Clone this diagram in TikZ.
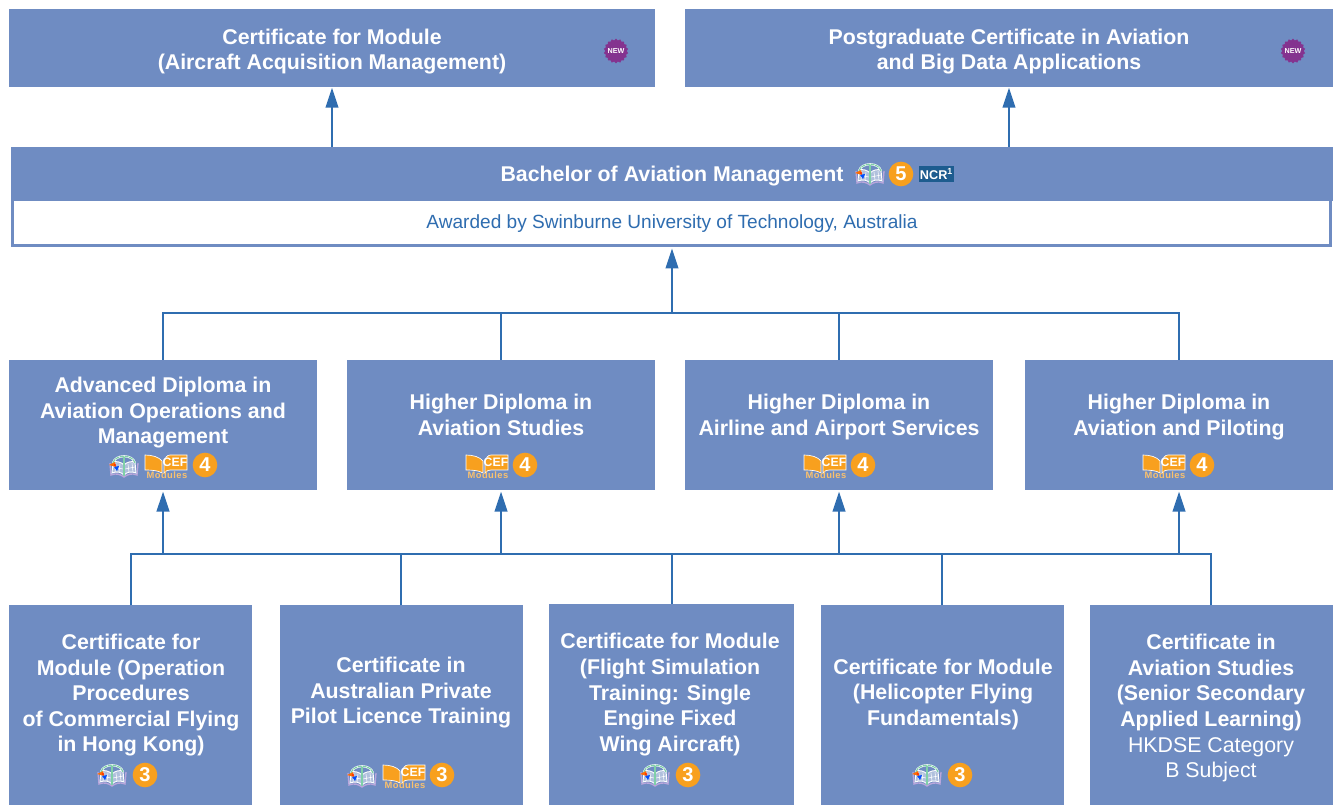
\documentclass[tikz,border=0pt]{standalone}
\usepackage{fontspec}
\setmainfont{Liberation Sans}
\usetikzlibrary{arrows.meta,shapes.geometric}
\definecolor{boxblue}{HTML}{6F8CC2}
\definecolor{linkblue}{HTML}{2F6DB0}
\definecolor{badgeorange}{HTML}{F8A01E}
\definecolor{newpurple}{HTML}{84338F}
\definecolor{ncrblue}{HTML}{1D5C8F}
\definecolor{archgreen}{HTML}{7FD0A8}
\definecolor{pagepurple}{HTML}{B9A6DC}
\tikzset{
  x=0.75pt,y=-0.75pt,
  box/.style={fill=boxblue,draw=none,inner sep=0pt,outer sep=0pt,anchor=north west},
  title/.style={text=white,font=\fontsize{16}{19.2}\selectfont\bfseries,align=center,inner sep=0pt,yshift=-1.9pt},
  link/.style={draw=linkblue,line width=1.5pt},
  up/.style={link,-{Triangle[length=15pt,width=9.5pt]},shorten >=0.5pt},
  numbadge/.style={circle,fill=badgeorange,text=white,minimum size=18.5pt,inner sep=0pt,font=\fontsize{15}{15}\selectfont\bfseries},
  pics/globebook/.style={code={
    % open book
    \draw[pagepurple,line width=1pt] (-14,-3) -- (-13,9) .. controls (-8,7) and (-4,8) .. (0,11) .. controls (4,8) and (8,7) .. (13,9) -- (14,-3);
    \draw[white,line width=.7pt,fill=boxblue!55!white] (-11,-4) .. controls (-7,-5) and (-3,-4) .. (0,-1) .. controls (3,-4) and (7,-5) .. (11,-4) -- (12,7) .. controls (7,5) and (3,6) .. (0,9) .. controls (-3,6) and (-7,5) .. (-12,7) -- cycle;
    \draw[white,line width=.4pt] (-8,-3)--(-9,6) (-4,-2)--(-5,6) (4,-2)--(5,6) (8,-3)--(9,6) (-11,1)--(-1,3) (11,1)--(1,3);
    % arch
    \draw[white,line width=1.6pt] (-11,-3) .. controls (-9,-12) and (9,-12) .. (11,-3);
    \draw[archgreen,line width=.9pt,dash pattern=on 3pt off .6pt] (-11,-3) .. controls (-9,-12) and (9,-12) .. (11,-3);
    \draw[archgreen,line width=1pt] (0,-9)--(0,10);
    % figure
    \fill[orange!85!red] (-15,-1) -- (-9,-4) -- (-8,1) -- cycle;
    \fill[blue!70!cyan] (-10,1) -- (-5,0) -- (-7,5) -- cycle;
    \fill[red!70!orange] (-9,-1) circle (1.2);
  }},
  pics/cef/.style={code={
    \draw[white,line width=.5pt,fill=badgeorange] (-21,-11) .. controls (-14,-11) and (-7,-9) .. (-4,-5) -- (-4,7) .. controls (-7,5) and (-12,4) .. (-21,4) -- cycle;
    \draw[white,line width=.5pt,fill=badgeorange] (-2,-5) .. controls (-1,-8) and (1,-11) .. (4,-11) -- (21,-11) -- (21,4) -- (4,4) .. controls (1,4) and (0,5) .. (-2,7) -- cycle;
    \node[text=white,inner sep=0pt,font=\fontsize{9.2}{9.2}\selectfont\bfseries] (-c) at (9,-3.5) {CEF};
    \node[text=badgeorange!65!white,inner sep=0pt,font=\fontsize{7}{7}\selectfont\bfseries] (-m) at (1,9.5) {\addfontfeature{LetterSpace=5}Modules};
  }},
  pics/newseal/.style={code={
    \node[star,star points=18,star point ratio=1.15,fill=newpurple,minimum size=18.5pt,inner sep=0pt] (-s) at (0,0) {};
    \node[text=white,inner sep=0pt,font=\fontsize{5.4}{5.4}\selectfont\bfseries] (-t) at (0,0) {NEW};
  }}
}
\begin{document}
\begin{tikzpicture}
\useasboundingbox (0,0) rectangle (1336,805);
% boxes
\node[box,minimum width=484.5pt,minimum height=58.5pt] (top1) at (9,9) {};
\node[box,minimum width=486pt,minimum height=58.5pt] (top2) at (685,9) {};
\node[draw=boxblue,line width=2.25pt,fill=white,minimum width=988.5pt,minimum height=34.5pt,inner sep=0pt,outer sep=0pt,anchor=north west] (bachbody) at (12.5,199.5) {};
\node[box,minimum width=991.5pt,minimum height=40.5pt] (bach) at (11,147) {};
\node[box,minimum width=231pt,minimum height=97.5pt] (m1) at (9,360) {};
\node[box,minimum width=231pt,minimum height=97.5pt] (m2) at (347,360) {};
\node[box,minimum width=231pt,minimum height=97.5pt] (m3) at (685,360) {};
\node[box,minimum width=231pt,minimum height=97.5pt] (m4) at (1025,360) {};
\node[box,minimum width=182.25pt,minimum height=150pt] (b1) at (9,605) {};
\node[box,minimum width=182.25pt,minimum height=150pt] (b2) at (280,605) {};
\node[box,minimum width=183.75pt,minimum height=150.75pt] (b3) at (549,604) {};
\node[box,minimum width=182.25pt,minimum height=150pt] (b4) at (821,605) {};
\node[box,minimum width=182.25pt,minimum height=150pt] (b5) at (1090,605) {};
% titles
\node[title] (t1) at (332,49.5) {\strut Certificate for Module\\\strut (Aircraft Acquisition Management)};
\node[title] (t2) at (1009,49.5) {\strut Postgraduate Certificate in Aviation\\\strut and Big Data Applications};
\node[title] (t3) at (672,174) {\strut Bachelor of Aviation Management};
\node[inner sep=0pt,text=linkblue,font=\fontsize{14.3}{17}\selectfont] (t3b) at (672,223.5) {Awarded by Swinburne University of Technology, Australia};
\node[title] (tm1) at (163,410.5) {\strut Advanced Diploma in\\Aviation Operations and\\\strut Management};
\node[title] (tm2) at (501,415) {\strut Higher Diploma in\\\strut Aviation Studies};
\node[title] (tm3) at (839,415) {\strut Higher Diploma in\\\strut Airline and Airport Services};
\node[title] (tm4) at (1179,415) {\strut Higher Diploma in\\\strut Aviation and Piloting};
\node[title] (tb1) at (131,693) {\strut Certificate for\\Module (Operation\\Procedures\\of Commercial Flying\\\strut in Hong Kong)};
\node[title] (tb2) at (401,690.5) {\strut Certificate in\\Australian Private\\\strut Pilot Licence Training};
\node[title] (tb3) at (670,692.5) {\strut Certificate for Module\\(Flight Simulation\\Training: Single\\Engine Fixed\\\strut Wing Aircraft)};
\node[title] (tb4) at (943,692) {\strut Certificate for Module\\(Helicopter Flying\\\strut Fundamentals)};
\node[title] (tb5) at (1211,706) {\strut Certificate in\\Aviation Studies\\(Senior Secondary\\Applied Learning)\\{\normalfont HKDSE Category}\\\strut{\normalfont B Subject}};
% connectors
\coordinate (jtop) at (672,313);
\coordinate (jbot) at (672,554);
\draw[up] (top1.south |- bach.north) -- (top1.south);
\draw[up] (top2.south |- bach.north) -- (top2.south);
\draw[up,shorten >=2.2pt] (jtop) -- (jtop |- bachbody.south);
\draw[link] (m1.north) |- (jtop);
\draw[link] (m2.north) |- (jtop);
\draw[link] (m3.north) |- (jtop);
\draw[link] (m4.north) |- (jtop);
\draw[link] (b1.north) |- (jbot);
\draw[link] ([xshift=-.4pt]b2.north) |- (jbot);
\draw[link] (jbot) -- (jbot |- b3.north);
\draw[link] ([xshift=-.4pt]b4.north) |- (jbot);
\draw[link] ([xshift=-.4pt]b5.north) |- (jbot);
\draw[up,shorten >=1.2pt] (m1.south |- jbot) -- (m1.south);
\draw[up,shorten >=1.2pt] (m2.south |- jbot) -- (m2.south);
\draw[up,shorten >=1.2pt] (m3.south |- jbot) -- (m3.south);
\draw[up,shorten >=1.2pt] (m4.south |- jbot) -- (m4.south);
% seals
\pic (n1) at (616,51) {newseal};
\pic (n2) at (1293,51) {newseal};
% bachelor icons
\pic at (870,174) {globebook};
\node[numbadge] (q0) at (901,174) {5};
\node[fill=ncrblue,text=white,inner sep=0pt,minimum width=26.5pt,minimum height=12pt,font=\fontsize{9.5}{9.5}\selectfont\bfseries] (ncr) at (936.5,174) {NCR\textsuperscript{1}};
% mid icons
\pic at (124,466) {globebook};
\pic (c1) at (166,466) {cef};
\node[numbadge] (q1) at (205,465) {4};
\pic (c2) at (487,466) {cef};
\node[numbadge] (q2) at (525,465) {4};
\pic (c3) at (825,466) {cef};
\node[numbadge] (q3) at (863,465) {4};
\pic (c4) at (1164,466) {cef};
\node[numbadge] (q4) at (1202,465) {4};
% bottom icons
\pic at (112,775) {globebook};
\node[numbadge] (q5) at (145,775) {3};
\pic at (362,776) {globebook};
\pic (c5) at (404,776) {cef};
\node[numbadge] (q6) at (442,775) {3};
\pic at (655,775) {globebook};
\node[numbadge] (q7) at (688,775) {3};
\pic at (927,775) {globebook};
\node[numbadge] (q8) at (960,775) {3};
\end{tikzpicture}
\end{document}
